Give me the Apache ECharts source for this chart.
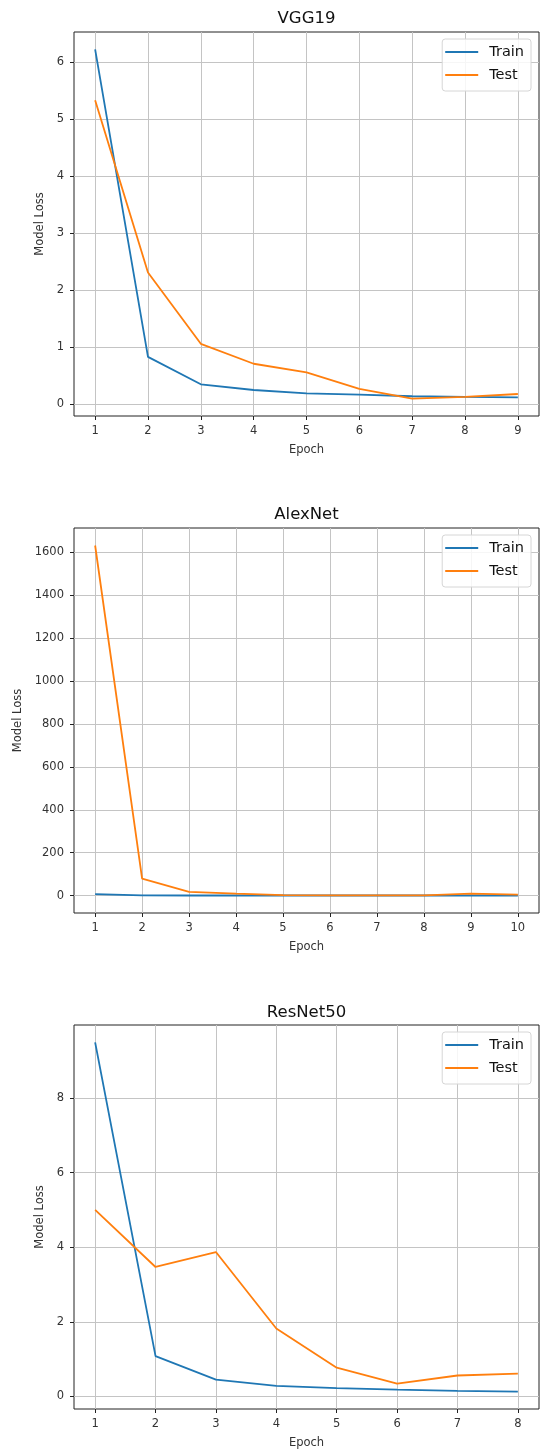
<!DOCTYPE html>
<html>
<head>
<meta charset="utf-8">
<script src="https://cdn.jsdelivr.net/npm/echarts@6/dist/echarts.min.js"></script>
<style>
  html, body { margin: 0; padding: 0; background: #fff; }
  #chart { width: 541px; height: 1452px; }
</style>
</head>
<body>
<div id="chart"></div>
<script>
// Loss curves per network, one value per epoch
const vggEpochs = [1, 2, 3, 4, 5, 6, 7, 8, 9];
const vggTrain = [6.22, 0.83, 0.35, 0.25, 0.19, 0.17, 0.14, 0.13, 0.12];
const vggTest = [5.33, 2.31, 1.06, 0.71, 0.56, 0.27, 0.10, 0.13, 0.18];
const vggYTicks = [0, 1, 2, 3, 4, 5, 6];

const alexEpochs = [1, 2, 3, 4, 5, 6, 7, 8, 9, 10];
const alexTrain = [7, 2, 1, 1, 1, 1, 1, 1, 1, 1];
const alexTest = [1630, 80, 18, 10, 3, 2, 2, 2, 10, 5];
const alexYTicks = [0, 200, 400, 600, 800, 1000, 1200, 1400, 1600];

const resEpochs = [1, 2, 3, 4, 5, 6, 7, 8];
const resTrain = [9.49, 1.08, 0.45, 0.28, 0.22, 0.18, 0.15, 0.13];
const resTest = [5.0, 3.47, 3.87, 1.82, 0.77, 0.34, 0.56, 0.61];
const resYTicks = [0, 2, 4, 6, 8];

const titles = ['VGG19', 'AlexNet', 'ResNet50'];
const seriesNames = ['Train', 'Test'];

const panels = [
  { epochs: vggEpochs, train: vggTrain, test: vggTest, yTicks: vggYTicks },
  { epochs: alexEpochs, train: alexTrain, test: alexTest, yTicks: alexYTicks },
  { epochs: resEpochs, train: resTrain, test: resTest, yTicks: resYTicks }
];

// Layout of the three stacked panels
const layout = [
  { top: 32, height: 384, titleTop: 10, legendTop: 39, yNameGap: 24 },
  { top: 528, height: 385, titleTop: 506, legendTop: 535, yNameGap: 47 },
  { top: 1025, height: 384, titleTop: 1004, legendTop: 1032, yNameGap: 24 }
];
const plotLeft = 74, plotRight = 2;
const COLORS = ['#1f77b4', '#ff7f0e'];
const FONT = 'DejaVu Sans';
const TICK_FONT = 11.5;

// 5% padding around the data range, like the default plot margins
function padded(lo, hi) {
  const r = hi - lo;
  return [lo - r * 0.05, hi + r * 0.05];
}

const option = {
  animation: false,
  backgroundColor: '#fff',
  title: [], legend: [], grid: [], xAxis: [], yAxis: [], series: []
};

panels.forEach((p, i) => {
  const L = layout[i];
  const xr = padded(Math.min(...p.epochs), Math.max(...p.epochs));
  const allY = p.train.concat(p.test);
  const yr = padded(Math.min(...allY), Math.max(...allY));

  option.title.push({
    text: titles[i],
    left: 306.5, top: L.titleTop, textAlign: 'center', padding: 0,
    textStyle: { fontFamily: FONT, fontSize: 16.5, fontWeight: 'normal', color: '#111' }
  });

  option.grid.push({
    left: plotLeft, right: plotRight, top: L.top, height: L.height,
    show: true, borderColor: '#222', borderWidth: 1, backgroundColor: '#fff'
  });

  option.legend.push({
    data: seriesNames,
    orient: 'vertical',
    right: 10, top: L.legendTop,
    padding: [5, 7, 8, 3],
    itemWidth: 33, itemHeight: 2, itemGap: 7,
    icon: 'rect',
    backgroundColor: 'rgba(255,255,255,0.85)',
    borderColor: '#d6d6d6', borderWidth: 1, borderRadius: 3,
    textStyle: { fontFamily: FONT, fontSize: 14.5, color: '#111', lineHeight: 16, padding: [0, 0, 0, 6] }
  });

  option.xAxis.push({
    type: 'value', gridIndex: i, min: xr[0], max: xr[1], position: 'bottom',
    name: 'Epoch', nameLocation: 'middle', nameGap: 28,
    nameTextStyle: { fontFamily: FONT, fontSize: TICK_FONT, color: '#333' },
    axisLine: { show: false, onZero: false },
    axisTick: { show: true, customValues: p.epochs, length: 4, lineStyle: { color: '#222' } },
    axisLabel: { customValues: p.epochs, margin: 9, fontFamily: FONT, fontSize: TICK_FONT, color: '#333',
                 formatter: v => String(v) },
    splitLine: { show: true, lineStyle: { color: '#c4c4c4', width: 1 } }
  });

  option.yAxis.push({
    type: 'value', gridIndex: i, min: yr[0], max: yr[1], position: 'left',
    name: 'Model Loss', nameLocation: 'middle', nameGap: L.yNameGap,
    nameTextStyle: { fontFamily: FONT, fontSize: TICK_FONT, color: '#333' },
    axisLine: { show: false, onZero: false },
    axisTick: { show: true, customValues: p.yTicks, length: 4, lineStyle: { color: '#222' } },
    axisLabel: { customValues: p.yTicks, margin: 10, fontFamily: FONT, fontSize: TICK_FONT, color: '#333',
                 formatter: v => String(v) },
    splitLine: { show: true, lineStyle: { color: '#c4c4c4', width: 1 } }
  });

  [p.train, p.test].forEach((vals, k) => {
    option.series.push({
      name: seriesNames[k],
      type: 'line',
      xAxisIndex: i, yAxisIndex: i,
      data: p.epochs.map((e, j) => [e, vals[j]]),
      showSymbol: false, symbol: 'none',
      lineStyle: { color: COLORS[k], width: 1.8 },
      itemStyle: { color: COLORS[k] },
      z: 3 + k
    });
  });
});

const chart = echarts.init(document.getElementById('chart'), null, { renderer: 'canvas' });
chart.setOption(option);
</script>
</body>
</html>
